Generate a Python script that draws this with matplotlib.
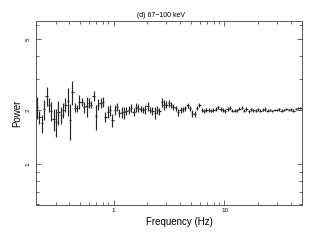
#!/usr/bin/env python
# encoding: utf-8
'''
Power spectrum, (d) 67-100 keV band, log-log with error bars.
'''

import numpy as np
import matplotlib
matplotlib.use('Agg')
import matplotlib.pyplot as plt
from matplotlib.ticker import FixedLocator, FixedFormatter, NullFormatter

plt.rcParams['font.family'] = ['Liberation Sans', 'DejaVu Sans']

freq = [0.205, 0.215, 0.226, 0.237, 0.249, 0.262, 0.275, 0.288, 0.303, 0.318,
        0.334, 0.351, 0.368, 0.386, 0.406, 0.426, 0.447, 0.470, 0.493, 0.518,
        0.544, 0.571, 0.599, 0.629, 0.661, 0.694, 0.729, 0.765,
        0.803, 0.843, 0.886, 0.930, 0.976, 1.025, 1.076, 1.130, 1.187, 1.246,
        1.308, 1.374, 1.442, 1.514, 1.590, 1.670, 1.753, 1.841, 1.933, 2.030,
        2.131, 2.238, 2.349, 2.467, 2.590, 2.720, 2.856, 2.998, 3.148,
        3.306, 3.471, 3.645, 3.827, 4.018, 4.219, 4.430, 4.652, 4.884, 5.128,
        5.385, 5.654, 5.937, 6.234, 6.545, 6.873, 7.216, 7.577, 7.956, 8.354,
        8.771, 9.210, 9.670, 10.15, 10.66, 11.19, 11.75, 12.34, 12.96,
        13.61, 14.29, 15.00, 15.75, 16.54, 17.37, 18.23, 19.15, 20.10, 21.11,
        22.16, 23.27, 24.43, 25.66, 26.94, 28.29, 29.70, 31.19, 32.75, 34.38,
        36.10, 37.91, 39.80, 41.79, 43.88, 46.08, 48.38]

power = [2.08, 1.83, 1.69, 2.02, 2.40, 2.14, 1.98, 1.78, 1.72, 1.95,
         1.88, 2.00, 2.14, 2.25, 1.76, 2.52, 2.06, 2.05, 2.22, 2.22,
         2.08, 2.10, 2.19, 2.15, 2.40, 1.85, 2.15, 2.20,
         2.22, 1.83, 1.95, 2.00, 1.76, 2.00, 2.08, 1.93, 1.95, 1.94,
         1.98, 2.00, 2.06, 1.96, 2.07, 2.06, 2.03, 2.00, 2.03, 2.10,
         2.00, 1.98, 1.93, 2.00, 1.97, 2.22, 2.14, 2.15, 2.18,
         2.14, 2.09, 2.05, 1.94, 2.00, 2.02, 2.05, 2.13, 2.05, 1.92,
         1.90, 2.06, 2.13, 2.00, 1.98, 2.01, 2.00, 1.99, 2.00, 2.02,
         2.07, 2.03, 2.00, 1.98, 2.03, 2.05, 1.99, 1.98, 2.00,
         2.04, 2.06, 1.99, 2.03, 1.97, 2.02, 2.00, 1.98, 2.02, 1.99,
         2.01, 2.03, 1.98, 2.00, 1.97, 2.01, 2.00, 2.02, 1.99, 2.01,
         2.03, 2.00, 2.02, 1.99, 2.03, 2.05, 2.06]

error = [0.30, 0.15, 0.20, 0.25, 0.30, 0.20, 0.25, 0.25, 0.30, 0.30,
         0.20, 0.20, 0.20, 0.40, 0.40, 0.38, 0.12, 0.10, 0.20, 0.12,
         0.15, 0.28, 0.14, 0.10, 0.15, 0.30, 0.15, 0.15,
         0.15, 0.12, 0.15, 0.15, 0.15, 0.13, 0.11, 0.10, 0.14, 0.15,
         0.11, 0.10, 0.10, 0.10, 0.12, 0.10, 0.08, 0.08, 0.12, 0.12,
         0.08, 0.10, 0.15, 0.10, 0.08, 0.13, 0.13, 0.10, 0.10,
         0.08, 0.08, 0.07, 0.08, 0.07, 0.07, 0.07, 0.07, 0.07, 0.08,
         0.07, 0.06, 0.06, 0.06, 0.05, 0.05, 0.05, 0.05, 0.05, 0.05,
         0.05, 0.05, 0.05, 0.05, 0.05, 0.05, 0.04, 0.04, 0.04,
         0.04, 0.04, 0.04, 0.04, 0.04, 0.04, 0.04, 0.04, 0.04, 0.04,
         0.04, 0.04, 0.04, 0.03, 0.03, 0.03, 0.03, 0.03, 0.03, 0.03,
         0.03, 0.03, 0.03, 0.03, 0.03, 0.03, 0.03]

title = "(d) 67\u2212100 keV"


def main():
    f = np.array(freq)
    p = np.array(power)
    e = np.array(error)
    assert len(f) == len(p) == len(e)

    # bin edges halfway (in log) between neighbouring frequencies
    mid = np.sqrt(f[1:] * f[:-1])
    lo = np.concatenate([[f[0] ** 2 / mid[0]], mid])
    hi = np.concatenate([mid, [f[-1] ** 2 / mid[-1]]])

    fig = plt.figure(figsize=(3.12, 2.4), dpi=100)
    ax = fig.add_axes([0.1154, 0.146, 0.8526, 0.7665])

    ax.errorbar(f, p, xerr=[f - lo, hi - f], yerr=e, fmt='none',
                ecolor='0.15', elinewidth=0.85, capsize=0)

    ax.set_xscale('log')
    ax.set_yscale('log')
    ax.set_xlim(0.2, 50)
    ax.set_ylim(0.59, 6.3)

    ax.yaxis.set_major_locator(FixedLocator([1, 2, 5]))
    ax.yaxis.set_major_formatter(FixedFormatter(['1', '2', '5']))
    ax.yaxis.set_minor_locator(FixedLocator([0.6, 0.7, 0.8, 0.9, 3, 4, 6]))
    ax.yaxis.set_minor_formatter(NullFormatter())

    ax.xaxis.set_major_locator(FixedLocator([1, 10]))
    ax.xaxis.set_major_formatter(FixedFormatter(['1', '10']))
    ax.xaxis.set_minor_locator(FixedLocator(
        [0.2, 0.3, 0.4, 0.5, 0.6, 0.7, 0.8, 0.9,
         2, 3, 4, 5, 6, 7, 8, 9, 20, 30, 40, 50]))
    ax.xaxis.set_minor_formatter(NullFormatter())

    ax.tick_params(which='both', direction='in', top=True, right=True,
                   width=0.6, color='0.3', labelsize=4.5)
    ax.tick_params(which='major', length=3.5, pad=2)
    ax.tick_params(which='minor', length=2)
    ax.tick_params(axis='y', pad=4)
    for lab in ax.get_yticklabels():
        lab.set_rotation(90)
        lab.set_va('center')

    for sp in ax.spines.values():
        sp.set_linewidth(0.7)
        sp.set_color('0.35')

    ax.set_xlabel("Frequency (Hz)", fontsize=7, labelpad=1)
    ax.xaxis.set_label_coords(0.54, -0.065)
    ax.set_ylabel("Power", fontsize=7, labelpad=2)
    ax.set_title(title, fontsize=5, pad=3, x=0.47)

    fig.savefig('out.png', dpi=100)


if __name__ == '__main__':
    main()
